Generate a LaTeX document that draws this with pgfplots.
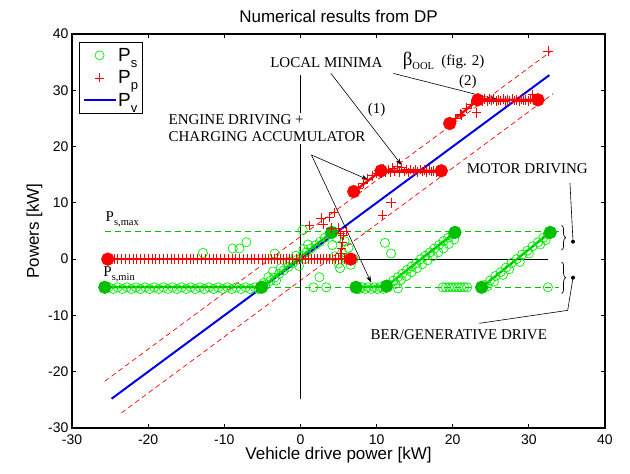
\documentclass[border=0pt]{standalone}
\usepackage{fontspec}
\setmainfont{Liberation Sans}
\newfontfamily\tms{Liberation Serif}
\usepackage{pgfplots}
\pgfplotsset{compat=1.18}
\usetikzlibrary{arrows.meta,decorations.pathreplacing}
\definecolor{gO}{RGB}{0,235,0}
\definecolor{gD}{RGB}{0,190,0}
\definecolor{rP}{RGB}{255,0,0}
\definecolor{bV}{RGB}{0,0,230}
\newcommand{\sub}[1]{\raisebox{-0.55ex}{\fontsize{10.5}{11}\selectfont #1}}
\newcommand{\lsub}[1]{\raisebox{-0.6ex}{\fontsize{13}{14}\selectfont #1}}
\newcommand{\ann}{\tms\fontsize{15}{17}\selectfont}
\begin{document}
\begin{tikzpicture}
\begin{axis}[name=ax,
 scale only axis, width=533pt, height=394pt,
 xmin=-30,xmax=40,ymin=-30,ymax=40,
 xtick={-30,-20,...,40}, ytick={-30,-20,...,40},
 tick align=inside, major tick length=4pt,
 axis line style={line width=1.3pt},
 every tick/.style={black, line width=0.8pt},
 /pgf/number format/assume math mode=true,
 tick label style={font=\fontsize{14}{16}\selectfont},
 xticklabel style={yshift=-3pt},
 title={Numerical results from DP},
 title style={font=\fontsize{17}{19}\selectfont, yshift=2pt},
 xlabel={Vehicle drive power [kW]},
 ylabel={Powers [kW]},
 xlabel style={font=\fontsize{17}{19}\selectfont, yshift=4pt},
 ylabel style={font=\fontsize{17}{19}\selectfont, yshift=-1pt},
 legend image code/.code={\draw[mark repeat=2,mark phase=2,#1] plot coordinates {(0pt,0pt) (16pt,0pt) (32pt,0pt)};},
 legend style={at={(axis description cs:0.013,0.98)}, anchor=north west,
   draw=black, line width=1.3pt, font=\fontsize{19}{21}\selectfont,
   row sep=5pt, inner xsep=3pt, inner ysep=4pt,
   nodes={inner sep=1.5pt}},
 legend cell align=left,
]
\addlegendimage{only marks, mark=o, gO, mark size=4.5pt, line width=0.7pt}
\addlegendentry{P\lsub{s}\hspace{8pt}}
\addlegendimage{only marks, mark=+, rP, mark size=4.5pt, line width=0.7pt}
\addlegendentry{P\lsub{p}\hspace{8pt}}
\addlegendimage{bV, line width=2pt}
\addlegendentry{P\lsub{v}\hspace{8pt}}

% red dashed bounds
\addplot[forget plot, rP, line width=0.7pt, dash pattern=on 5pt off 3.5pt] coordinates {(-25.7,-21.7) (33.0,37.0)};
\addplot[forget plot, rP, line width=0.7pt, dash pattern=on 5pt off 3.5pt] coordinates {(-23.5,-27.3) (33.2,29.4)};
% green dashed limits
\addplot[forget plot, gD, line width=0.7pt, dash pattern=on 6pt off 4pt] coordinates {(-25.7,5) (34.0,5)};
\addplot[forget plot, gD, line width=0.7pt, dash pattern=on 6pt off 4pt] coordinates {(-25.7,-5) (34.0,-5)};
% axes lines
\addplot[forget plot, black, line width=0.7pt] coordinates {(-25.5,0) (32.5,0)};
\addplot[forget plot, black, line width=0.7pt] coordinates {(0,-24.8) (0,32.7)};
% Pv
\addplot[forget plot, bV, line width=2pt] coordinates {(-24.8,-24.8) (-10,-10) (0,0) (10,10) (20,20) (32.7,32.7)};

% Ps open circles
\addplot[forget plot, only marks, mark=o, gO, mark size=4.6pt, line width=0.7pt] coordinates {
(-25.2,-5.0) (-24.6,-5.3) (-24.0,-5.0) (-23.4,-5.3) (-22.8,-5.0) (-22.2,-5.3) (-21.6,-5.0) (-21.0,-5.3)
(-20.4,-5.0) (-19.8,-5.3) (-19.2,-5.0) (-18.6,-5.3) (-18.0,-5.0) (-17.4,-5.3) (-16.8,-5.0) (-16.2,-5.3)
(-15.6,-5.0) (-15.0,-5.3) (-14.4,-5.0) (-13.8,-5.3) (-13.2,-5.0) (-12.6,-5.3) (-12.0,-5.0) (-11.4,-5.3)
(-10.8,-5.0) (-10.2,-5.3) (-9.6,-5.0) (-9.0,-5.3) (-8.4,-5.0) (-7.8,-5.3) (-7.2,-5.0) (-6.6,-5.3)
(-6.0,-5.0) (-5.5,-5.3)
(-4.6,-4.6) (-4.0,-3.9) (-3.4,-3.3) (-2.8,-2.6) (-2.2,-2.0) (-1.6,-1.4) (-1.0,-0.7) (-0.4,-0.1)
(0.2,0.6) (0.8,1.2) (1.4,1.9) (2.0,2.5) (2.6,3.1) (3.2,3.8) (3.8,4.4)
(-4.2,-3.2) (-3.6,-2.2) (-2.6,-1.6) (-1.4,-0.4) (-0.6,0.6) (0.4,1.8) (1.0,2.6) (-0.2,-1.2) (0.6,0.0)
(-4.8,-4.2) (-3.2,-3.8)
(-12.8,1.1) (-8.9,1.9) (-8.0,1.9) (-7.1,3.0) (-3.4,1.0) (0.3,5.2) (2.5,-3.2) (1.7,-5.0) (3.4,-5.0)
(11.1,2.9) (11.9,1.0) (12.8,-5.2) (32.5,-5.0)
(4.2,2.5) (4.5,0.5) (5.0,-0.8) (5.5,1.2) (6.0,0.2) (6.3,2.0) (5.8,3.2) (6.6,-1.0) (4.8,3.8) (7.0,0.0) (5.2,-1.6)
(7.3,-5.0) (7.7,-5.3) (8.1,-5.0) (8.5,-5.3) (8.9,-5.0) (9.3,-5.3) (9.7,-5.0) (10.1,-5.3) (10.5,-5.0) (10.9,-5.3) (11.3,-5.0)
(11.6,-4.5) (12.2,-3.8) (12.8,-3.2) (13.4,-2.6) (14.0,-1.9) (14.6,-1.3) (15.2,-0.7) (15.8,0.0) (16.4,0.6)
(17.0,1.2) (17.6,1.9) (18.2,2.5) (18.8,3.2) (19.4,3.8) (20.0,4.4)
(12.5,-4.4) (13.2,-3.7) (13.9,-3.0) (14.6,-2.3) (15.3,-1.6) (16.0,-0.9) (16.7,-0.2) (17.4,0.5) (18.1,1.2)
(18.8,1.9) (19.5,2.7) (20.2,3.5)
(18.7,-5.0) (19.1,-5.0) (19.5,-5.0) (19.9,-5.0) (20.3,-5.0) (20.7,-5.0) (21.1,-5.0) (21.5,-5.0) (21.9,-5.0)
(24.2,-4.6) (24.9,-3.8) (25.6,-3.0) (26.3,-2.3) (27.0,-1.5) (27.7,-0.7) (28.4,0.0) (29.1,0.8) (29.8,1.5)
(30.5,2.3) (31.2,3.0) (31.9,3.8) (32.5,4.4)
(24.6,-4.8) (25.4,-4.0) (26.6,-2.8) (27.4,-1.8) (28.8,-0.5) (30.0,1.0) (31.5,2.6) (32.2,3.4)
};
% Ps optimal path (dark green)
\addplot[forget plot, gD, line width=2.2pt, mark=*, mark size=5.5pt] coordinates {(-25.7,-5.0) (-5.1,-5.0) (4.1,4.75)};
\addplot[forget plot, gD, line width=2.2pt, mark=*, mark size=5.5pt] coordinates {(7.3,-5.0) (11.3,-4.8) (20.3,4.75)};
\addplot[forget plot, gD, line width=2.2pt, mark=*, mark size=5.5pt] coordinates {(23.8,-5.0) (32.8,4.75)};

% Pp plus marks
\addplot[forget plot, only marks, mark=+, rP, mark size=4.8pt, line width=0.7pt] coordinates {
(-25.0,0) (-24.5,0) (-24.0,0) (-23.5,0) (-23.0,0) (-22.5,0) (-22.0,0) (-21.5,0) (-21.0,0) (-20.5,0)
(-20.0,0) (-19.5,0) (-19.0,0) (-18.5,0) (-18.0,0) (-17.5,0) (-17.0,0) (-16.5,0) (-16.0,0) (-15.5,0)
(-15.0,0) (-14.5,0) (-14.0,0) (-13.5,0) (-13.0,0) (-12.5,0) (-12.0,0) (-11.5,0) (-11.0,0) (-10.5,0)
(-10.0,0) (-9.5,0) (-9.0,0) (-8.5,0) (-8.0,0) (-7.5,0) (-7.0,0) (-6.5,0) (-6.0,0) (-5.5,0)
(-5.0,0) (-4.6,0) (-4.2,0) (-3.8,0) (-3.4,0) (-3.0,0) (-2.6,0) (-2.2,0) (-1.8,0) (-1.4,0)
(-1.0,0) (-0.6,0) (-0.2,0) (0.2,0) (0.6,0) (1.0,0) (1.4,0) (1.8,0) (2.2,0) (2.6,0)
(3.0,0) (3.4,0) (3.8,0) (4.2,0) (4.6,0) (5.0,0) (5.4,0) (5.8,0) (6.2,0) (6.6,0)
(5.3,1.0) (5.4,2.0) (5.5,3.0) (5.2,4.5) (4.0,5.5) (5.6,4.2) (6.0,5.0) (5.0,5.5)
(1.2,6.0) (2.7,7.3) (3.0,6.2) (3.8,7.5) (4.5,8.3) (10.8,7.8) (11.9,10.0)
(7.0,12.0) (7.6,12.6) (8.2,13.5) (8.8,14.2) (9.4,14.8) (10.0,15.3)
(10.3,15.7) (10.6,15.2) (10.9,16.0) (11.2,15.5) (11.5,15.9) (11.8,15.4) (12.1,16.2) (12.4,15.6) (12.7,16.4)
(13.0,15.5) (13.3,16.3) (13.6,15.6) (13.9,15.9) (14.2,15.4) (14.5,15.9) (14.8,15.6) (15.1,15.8) (15.4,15.5)
(15.7,15.9) (16.0,15.6) (16.3,15.8) (16.6,15.5) (16.9,15.8) (17.2,15.6) (17.5,15.7) (17.8,15.5) (18.1,15.8) (18.5,15.6)
(20.3,25.0) (21.0,25.8) (21.8,26.8) (22.5,27.5) (21.1,25.6) (23.1,26.0)
(23.6,28.3) (23.9,28.0) (24.2,28.5) (24.5,28.1) (24.8,28.4) (25.1,28.2) (25.4,28.4) (25.7,28.1) (26.0,28.3)
(26.3,28.2) (26.6,28.4) (26.9,28.1) (27.2,28.3) (27.5,28.2) (27.8,28.4) (28.1,28.2) (28.4,28.3) (28.7,28.1)
(29.0,28.4) (29.3,28.2) (29.6,28.3) (29.9,28.1) (30.2,28.4) (30.5,29.2) (30.8,28.3) (31.5,28.2)
(32.5,37.0)
};
% Pp optimal path (red)
\addplot[forget plot, rP, line width=2.2pt, mark=*, mark size=5.5pt] coordinates {(-25.3,0) (6.6,0)};
\addplot[forget plot, rP, line width=2.2pt, mark=*, mark size=5.5pt] coordinates {(7.0,12.0) (10.6,15.7) (18.5,15.7)};
\addplot[forget plot, rP, line width=2.2pt, mark=*, mark size=5.5pt] coordinates {(19.6,24.1) (23.3,28.3) (31.2,28.3)};

% annotations
\node[font=\ann] at (axis cs:3.4,35.0) {LOCAL MINIMA};
\node[font=\ann] at (axis cs:18.8,35.2) {{\fontsize{19}{20}\selectfont β}\sub{OOL}\ \ (fig. 2)};
\node[font=\ann] at (axis cs:22.0,31.5) {(2)};
\node[font=\ann] at (axis cs:10.0,26.5) {(1)};
\node[font=\ann, anchor=west, align=left, fill=white, inner sep=2pt] at (axis cs:-17.6,23.2) {ENGINE DRIVING +\\CHARGING ACCUMULATOR};
\node[font=\ann] at (axis cs:29.8,16.0) {MOTOR DRIVING};
\node[font=\ann] at (axis cs:20.8,-13.5) {BER/GENERATIVE DRIVE};
\node[font=\ann, anchor=west, inner sep=0pt] at (axis cs:-25.6,7.0) {P\sub{s,max}};
\node[font=\ann, anchor=west, inner sep=0pt] at (axis cs:-25.9,-2.7) {P\sub{s,min}};

\draw[line width=0.6pt, -{Stealth[length=7pt,width=4.5pt]}] (axis cs:4.0,33.0) -- (axis cs:13.3,16.7);
\draw[line width=0.6pt, -{Stealth[length=7pt,width=4.5pt]}] (axis cs:12.2,33.0) -- (axis cs:25.9,28.3);
\draw[line width=0.6pt, -{Stealth[length=7pt,width=4.5pt]}] (axis cs:1.45,18.5) -- (axis cs:8.9,14.1);
\draw[line width=0.6pt, -{Stealth[length=7pt,width=4.5pt]}] (axis cs:1.45,18.5) -- (axis cs:9.3,-4.2);
\draw[line width=0.6pt] (axis cs:35.4,13.5) -- (axis cs:35.8,3.1);
\fill (axis cs:35.8,3.1) circle (2pt);
\draw[line width=0.6pt] (axis cs:35.8,-3.3) -- (axis cs:35.1,-9.1) -- (axis cs:23.5,-11.4);
\fill (axis cs:35.8,-3.3) circle (2pt);
\draw[line width=0.7pt, decorate, decoration={brace, amplitude=4pt}] (axis cs:34.3,6.0) -- (axis cs:34.3,1.6);
\draw[line width=0.7pt, decorate, decoration={brace, amplitude=4pt}] (axis cs:34.3,-0.5) -- (axis cs:34.3,-6.1);
\end{axis}
\pgfresetboundingbox
\path[use as bounding box] ([xshift=-72pt,yshift=-46pt]ax.south west) rectangle ([xshift=25pt,yshift=34pt]ax.north east);
\end{tikzpicture}
\end{document}
